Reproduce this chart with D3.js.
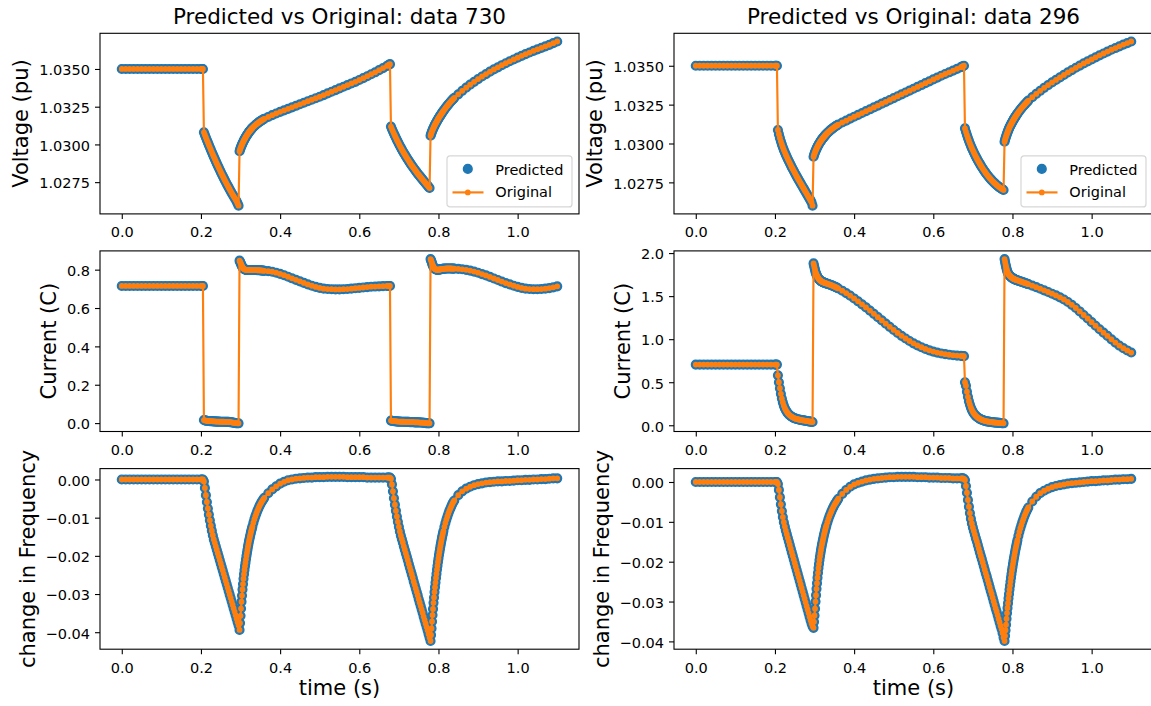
<!DOCTYPE html>
<html>
<head>
<meta charset="utf-8">
<script src="https://cdn.jsdelivr.net/npm/d3@7"></script>
<style>
  html, body { margin: 0; padding: 0; background: #fff; }
  svg { display: block; font-family: "DejaVu Sans", sans-serif; }
</style>
</head>
<body>
<svg id="fig" width="1151" height="706"></svg>
<script>
// Sample times (s): coarse where the signals are calm, finer around the switching events
const time = [].concat(
  d3.range(0, 21).map(i => i * 0.01),             // 0.00 - 0.20      (21)
  d3.range(1, 39).map(i => 0.2 + i * 0.0025),     // 0.2025 - 0.295   (38)
  d3.range(0, 27).map(i => 0.2975 + i * 0.00125), // 0.2975 - 0.33    (27)
  d3.range(1, 13).map(i => 0.33 + i * 0.0025),    // 0.3325 - 0.36    (12)
  d3.range(37, 68).map(i => i * 0.01),            // 0.37 - 0.67      (31)
  d3.range(1, 44).map(i => 0.67 + i * 0.0025),    // 0.6725 - 0.7775  (43)
  d3.range(0, 27).map(i => 0.78 + i * 0.00125),   // 0.78 - 0.8125    (27)
  d3.range(1, 12).map(i => 0.8125 + i * 0.0025),  // 0.815 - 0.84     (11)
  d3.range(85, 111).map(i => i * 0.01)            // 0.85 - 1.10      (26)
);

// ---- data 730 ----
const voltage730 = [
  1.0350,1.0350,1.0350,1.0350,1.0350,1.0350,1.0350,1.0350,1.0350,1.0350,
  1.0350,1.0350,1.0350,1.0350,1.0350,1.0350,1.0350,1.0350,1.0350,1.0350,
  1.0350,
  1.0350,1.0350,
  1.03080,1.03063,1.03046,1.03029,1.03013,1.02997,1.02981,1.02965,1.02949,1.02934,
  1.02919,1.02904,1.02889,1.02874,1.02860,1.02846,1.02832,1.02818,1.02804,1.02791,
  1.02778,1.02765,1.02752,1.02739,1.02727,1.02715,1.02703,1.02691,1.02679,1.02668,
  1.02657,1.02646,1.02635,1.02623,1.02609,1.02594,
  1.02955,1.02966,1.02975,1.02984,1.02992,1.03000,1.03007,1.03014,1.03021,1.03028,
  1.03034,1.03040,1.03046,1.03052,1.03057,1.03062,1.03067,1.03072,1.03077,1.03082,
  1.03086,1.03090,1.03094,1.03098,1.03102,1.03106,1.03109,
  1.03116,1.03122,1.03128,1.03134,1.03139,1.03144,1.03149,1.03154,1.03158,1.03162,
  1.03166,1.03170,
  1.03182,1.03194,1.03205,1.03216,1.03226,1.03236,1.03246,1.03256,1.03266,1.03276,
  1.03286,1.03296,1.03306,1.03316,1.03327,1.03338,1.03349,1.03360,1.03371,1.03382,
  1.03393,1.03404,1.03415,1.03427,1.03439,1.03452,1.03465,1.03478,1.03492,1.03506,
  1.03520,
  1.03524,1.03528,1.03532,
  1.03118,1.03102,1.03087,1.03072,1.03058,1.03044,1.03030,1.03017,1.03004,1.02991,
  1.02979,1.02967,1.02955,1.02944,1.02933,1.02922,1.02911,1.02901,1.02891,1.02881,
  1.02871,1.02861,1.02852,1.02843,1.02834,1.02825,1.02816,1.02807,1.02799,1.02791,
  1.02783,1.02775,1.02767,1.02759,1.02751,1.02743,1.02735,1.02727,1.02719,1.02711,
  1.03058,1.03068,1.03078,1.03087,1.03095,1.03103,1.03110,1.03117,1.03124,1.03131,
  1.03137,1.03143,1.03149,1.03155,1.03161,1.03167,1.03172,1.03178,1.03183,1.03188,
  1.03193,1.03198,1.03203,1.03208,1.03213,1.03218,1.03222,
  1.03231,1.03240,1.03249,1.03257,1.03265,1.03273,1.03281,1.03288,1.03295,1.03302,
  1.03309,
  1.03332,1.03355,1.03376,1.03396,1.03415,1.03433,1.03450,1.03466,1.03482,1.03497,
  1.03511,1.03525,1.03538,1.03551,1.03563,1.03575,1.03587,1.03598,1.03609,1.03620,
  1.03630,1.03640,1.03650,1.03660,1.03671,1.03682
];

const current730 = [
  0.715,0.715,0.715,0.715,0.715,0.715,0.715,0.715,0.715,0.715,
  0.715,0.715,0.715,0.715,0.715,0.715,0.715,0.715,0.715,0.715,
  0.715,
  0.715,0.715,
  0.016,0.014,0.013,0.012,0.011,0.011,0.010,0.010,0.010,0.009,
  0.009,0.009,0.008,0.008,0.008,0.008,0.007,0.007,0.007,0.007,
  0.007,0.006,0.006,0.006,0.006,0.006,0.005,0.005,0.004,0.003,
  0.002,0.001,0.000,0.000,-0.001,-0.001,
  0.847,0.842,0.836,0.830,0.823,0.818,0.813,0.809,0.806,0.804,
  0.802,0.801,0.800,0.799,0.799,0.798,0.798,0.798,0.798,0.798,
  0.798,0.798,0.798,0.798,0.798,0.798,0.798,
  0.798,0.798,0.798,0.798,0.797,0.797,0.797,0.796,0.796,0.795,
  0.795,0.794,
  0.792,0.789,0.784,0.778,0.771,0.763,0.755,0.747,0.739,0.731,
  0.723,0.716,0.710,0.705,0.701,0.699,0.698,0.697,0.697,0.698,
  0.699,0.701,0.703,0.705,0.707,0.709,0.711,0.712,0.713,0.714,
  0.715,
  0.715,0.715,0.715,
  0.013,0.012,0.011,0.010,0.010,0.009,0.009,0.008,0.008,0.008,
  0.007,0.007,0.007,0.007,0.006,0.006,0.006,0.006,0.006,0.005,
  0.005,0.005,0.005,0.005,0.004,0.004,0.004,0.004,0.004,0.003,
  0.003,0.003,0.002,0.002,0.001,0.000,0.000,-0.001,-0.001,-0.001,
  0.855,0.849,0.842,0.834,0.826,0.820,0.814,0.810,0.806,0.804,
  0.802,0.801,0.800,0.800,0.800,0.800,0.800,0.800,0.801,0.801,
  0.802,0.802,0.803,0.803,0.804,0.804,0.804,
  0.805,0.805,0.806,0.806,0.806,0.806,0.806,0.806,0.805,0.805,
  0.805,
  0.804,0.802,0.799,0.795,0.790,0.784,0.777,0.770,0.762,0.754,
  0.746,0.738,0.730,0.723,0.716,0.710,0.705,0.701,0.699,0.698,
  0.698,0.699,0.701,0.704,0.708,0.713
];

const freq730 = [
  0,0,0,0,0,0,0,0,0,0,
  0,0,0,0,0,0,0,0,0,0,
  0,
  0,0,
  -0.0005,-0.0022,-0.0041,-0.0059,-0.0076,-0.0092,-0.0107,-0.0121,-0.0134,-0.0146,
  -0.0157,-0.0166,-0.0175,-0.0184,-0.0193,-0.0202,-0.0211,-0.0220,-0.0229,-0.0238,
  -0.0247,-0.0256,-0.0265,-0.0274,-0.0283,-0.0292,-0.0301,-0.0310,-0.0319,-0.0328,
  -0.0337,-0.0346,-0.0355,-0.0364,-0.0373,-0.0382,
  -0.0394,-0.0376,-0.0357,-0.0338,-0.0320,-0.0304,-0.0288,-0.0274,-0.0260,-0.0248,
  -0.0237,-0.0227,-0.0218,-0.0209,-0.0200,-0.0192,-0.0184,-0.0176,-0.0169,-0.0162,
  -0.0156,-0.0150,-0.0144,-0.0138,-0.0133,-0.0128,-0.0123,
  -0.0113,-0.0104,-0.0096,-0.0089,-0.0082,-0.0076,-0.0070,-0.0065,-0.0060,-0.0056,
  -0.0052,-0.0048,
  -0.0036,-0.0026,-0.0018,-0.0011,-0.0006,-0.0002,0.0000,0.0002,0.0003,0.0004,
  0.0005,0.0005,0.0006,0.0006,0.0006,0.0007,0.0007,0.0007,0.0007,0.0007,
  0.0006,0.0006,0.0006,0.0006,0.0006,0.0005,0.0005,0.0005,0.0005,0.0005,
  0.0005,
  0.0005,0.0005,0.0005,
  0.0002,-0.0013,-0.0031,-0.0049,-0.0066,-0.0082,-0.0097,-0.0111,-0.0124,-0.0136,
  -0.0147,-0.0156,-0.0165,-0.0175,-0.0184,-0.0193,-0.0202,-0.0211,-0.0221,-0.0230,
  -0.0239,-0.0248,-0.0257,-0.0267,-0.0276,-0.0285,-0.0294,-0.0303,-0.0313,-0.0322,
  -0.0331,-0.0340,-0.0349,-0.0359,-0.0368,-0.0377,-0.0386,-0.0395,-0.0405,-0.0414,
  -0.0423,-0.0407,-0.0390,-0.0372,-0.0355,-0.0339,-0.0323,-0.0309,-0.0295,-0.0282,
  -0.0270,-0.0258,-0.0247,-0.0236,-0.0226,-0.0216,-0.0207,-0.0198,-0.0190,-0.0182,
  -0.0174,-0.0167,-0.0160,-0.0153,-0.0147,-0.0141,-0.0135,
  -0.0124,-0.0114,-0.0105,-0.0097,-0.0089,-0.0082,-0.0076,-0.0070,-0.0064,-0.0059,
  -0.0055,
  -0.0041,-0.0031,-0.0024,-0.0019,-0.0015,-0.0012,-0.0010,-0.0008,-0.0007,-0.0006,
  -0.0005,-0.0005,-0.0004,-0.0004,-0.0003,-0.0002,-0.0002,-0.0001,-0.0001,0.0000,
  0.0000,0.0001,0.0001,0.0002,0.0003,0.0003
];

// ---- data 296 ----
const voltage296 = [
  1.0350,1.0350,1.0350,1.0350,1.0350,1.0350,1.0350,1.0350,1.0350,1.0350,
  1.0350,1.0350,1.0350,1.0350,1.0350,1.0350,1.0350,1.0350,1.0350,1.0350,
  1.0350,
  1.0350,1.0350,
  1.03087,1.03060,1.03036,1.03014,1.02994,1.02976,1.02959,1.02943,1.02928,1.02914,
  1.02900,1.02887,1.02874,1.02861,1.02848,1.02836,1.02824,1.02812,1.02800,1.02788,
  1.02777,1.02766,1.02755,1.02744,1.02733,1.02722,1.02711,1.02700,1.02689,1.02678,
  1.02667,1.02656,1.02645,1.02634,1.02622,1.02600,
  1.02915,1.02926,1.02935,1.02944,1.02952,1.02960,1.02967,1.02974,1.02980,1.02986,
  1.02992,1.02998,1.03003,1.03008,1.03013,1.03018,1.03022,1.03027,1.03031,1.03035,
  1.03039,1.03043,1.03047,1.03051,1.03054,1.03058,1.03061,
  1.03068,1.03074,1.03080,1.03086,1.03091,1.03096,1.03101,1.03106,1.03110,1.03114,
  1.03118,1.03122,
  1.03135,1.03147,1.03160,1.03172,1.03184,1.03196,1.03208,1.03220,1.03232,1.03244,
  1.03256,1.03268,1.03280,1.03292,1.03304,1.03316,1.03328,1.03340,1.03352,1.03364,
  1.03376,1.03388,1.03400,1.03412,1.03424,1.03436,1.03447,1.03458,1.03469,1.03480,
  1.03491,
  1.03494,1.03497,1.03500,
  1.03097,1.03075,1.03055,1.03036,1.03018,1.03001,1.02985,1.02970,1.02956,1.02942,
  1.02929,1.02916,1.02904,1.02892,1.02881,1.02870,1.02859,1.02849,1.02839,1.02829,
  1.02820,1.02811,1.02802,1.02794,1.02786,1.02778,1.02771,1.02764,1.02757,1.02751,
  1.02745,1.02739,1.02733,1.02728,1.02723,1.02718,1.02713,1.02709,1.02705,1.02701,
  1.03012,1.03024,1.03035,1.03045,1.03055,1.03064,1.03073,1.03081,1.03089,1.03097,
  1.03104,1.03111,1.03117,1.03123,1.03129,1.03135,1.03141,1.03147,1.03152,1.03158,
  1.03163,1.03168,1.03173,1.03178,1.03183,1.03188,1.03192,
  1.03201,1.03210,1.03218,1.03226,1.03234,1.03241,1.03248,1.03255,1.03262,1.03269,
  1.03276,
  1.03298,1.03319,1.03339,1.03358,1.03376,1.03393,1.03409,1.03425,1.03441,1.03457,
  1.03472,1.03487,1.03501,1.03515,1.03528,1.03541,1.03554,1.03567,1.03579,1.03591,
  1.03603,1.03614,1.03625,1.03636,1.03646,1.03656
];

const current296 = [
  0.705,0.705,0.705,0.705,0.705,0.705,0.705,0.705,0.705,0.705,
  0.705,0.705,0.705,0.705,0.705,0.705,0.705,0.705,0.705,0.705,
  0.705,
  0.705,0.705,
  0.580,0.500,0.430,0.365,0.310,0.265,0.228,0.198,0.175,0.156,
  0.140,0.127,0.116,0.107,0.099,0.092,0.086,0.081,0.077,0.073,
  0.070,0.067,0.064,0.062,0.060,0.058,0.056,0.054,0.052,0.050,
  0.048,0.046,0.044,0.042,0.040,0.038,
  1.880,1.855,1.830,1.805,1.780,1.764,1.750,1.737,1.725,1.714,
  1.705,1.697,1.690,1.685,1.680,1.676,1.672,1.668,1.665,1.662,
  1.660,1.657,1.655,1.653,1.651,1.649,1.647,
  1.643,1.639,1.635,1.631,1.627,1.622,1.617,1.612,1.607,1.601,
  1.595,1.589,
  1.563,1.535,1.505,1.473,1.440,1.405,1.369,1.332,1.294,1.256,
  1.218,1.180,1.143,1.107,1.072,1.039,1.008,0.979,0.952,0.928,
  0.906,0.887,0.870,0.856,0.844,0.834,0.826,0.819,0.813,0.809,
  0.806,
  0.805,0.804,0.803,
  0.500,0.460,0.390,0.330,0.280,0.240,0.205,0.178,0.155,0.137,
  0.122,0.110,0.099,0.090,0.082,0.075,0.069,0.064,0.059,0.055,
  0.052,0.049,0.046,0.044,0.042,0.040,0.038,0.036,0.035,0.033,
  0.032,0.031,0.030,0.029,0.028,0.027,0.026,0.025,0.024,0.023,
  1.930,1.900,1.870,1.845,1.820,1.800,1.780,1.767,1.755,1.747,
  1.740,1.734,1.728,1.723,1.718,1.714,1.710,1.706,1.703,1.700,
  1.697,1.694,1.692,1.689,1.687,1.685,1.683,
  1.679,1.675,1.671,1.667,1.663,1.659,1.655,1.651,1.647,1.643,
  1.639,
  1.622,1.604,1.586,1.567,1.548,1.528,1.508,1.486,1.461,1.432,
  1.399,1.362,1.322,1.281,1.240,1.198,1.156,1.115,1.076,1.038,
  0.998,0.960,0.926,0.896,0.869,0.845
];

const freq296 = [
  0,0,0,0,0,0,0,0,0,0,
  0,0,0,0,0,0,0,0,0,0,
  0,
  0,0,
  -0.0005,-0.0020,-0.0038,-0.0056,-0.0073,-0.0088,-0.0101,-0.0112,-0.0122,-0.0131,
  -0.0140,-0.0149,-0.0158,-0.0167,-0.0176,-0.0185,-0.0194,-0.0203,-0.0212,-0.0221,
  -0.0230,-0.0239,-0.0248,-0.0257,-0.0266,-0.0275,-0.0284,-0.0293,-0.0302,-0.0311,
  -0.0320,-0.0329,-0.0338,-0.0347,-0.0355,-0.0362,
  -0.0366,-0.0351,-0.0335,-0.0318,-0.0300,-0.0284,-0.0268,-0.0254,-0.0240,-0.0228,
  -0.0216,-0.0206,-0.0196,-0.0187,-0.0179,-0.0171,-0.0164,-0.0157,-0.0151,-0.0145,
  -0.0139,-0.0133,-0.0128,-0.0123,-0.0118,-0.0113,-0.0109,
  -0.0101,-0.0093,-0.0086,-0.0080,-0.0074,-0.0068,-0.0063,-0.0058,-0.0054,-0.0050,
  -0.0046,-0.0042,
  -0.0030,-0.0020,-0.0012,-0.0006,-0.0002,0.0001,0.0004,0.0006,0.0008,0.0009,
  0.0010,0.0011,0.0012,0.0012,0.0013,0.0013,0.0013,0.0013,0.0013,0.0012,
  0.0012,0.0012,0.0011,0.0011,0.0011,0.0010,0.0010,0.0010,0.0009,0.0009,
  0.0009,
  0.0009,0.0009,0.0008,
  0.0005,-0.0010,-0.0027,-0.0045,-0.0062,-0.0078,-0.0092,-0.0104,-0.0114,-0.0123,
  -0.0132,-0.0141,-0.0149,-0.0158,-0.0167,-0.0176,-0.0185,-0.0193,-0.0202,-0.0211,
  -0.0220,-0.0229,-0.0237,-0.0246,-0.0255,-0.0264,-0.0273,-0.0281,-0.0290,-0.0299,
  -0.0308,-0.0317,-0.0325,-0.0334,-0.0343,-0.0352,-0.0361,-0.0369,-0.0379,-0.0390,
  -0.0399,-0.0386,-0.0372,-0.0358,-0.0343,-0.0329,-0.0316,-0.0304,-0.0292,-0.0281,
  -0.0270,-0.0260,-0.0250,-0.0240,-0.0231,-0.0222,-0.0214,-0.0206,-0.0198,-0.0191,
  -0.0184,-0.0177,-0.0170,-0.0164,-0.0158,-0.0152,-0.0146,
  -0.0135,-0.0125,-0.0116,-0.0108,-0.0100,-0.0093,-0.0086,-0.0080,-0.0074,-0.0069,
  -0.0064,
  -0.0049,-0.0037,-0.0028,-0.0022,-0.0017,-0.0013,-0.0010,-0.0008,-0.0006,-0.0004,
  -0.0003,-0.0002,-0.0001,0.0000,0.0001,0.0002,0.0002,0.0003,0.0004,0.0004,
  0.0005,0.0006,0.0006,0.0007,0.0007,0.0008
];

// ---- tick values and their labels ----
const timeTicks = [0, 0.2, 0.4, 0.6, 0.8, 1.0];
const timeTickLabels = ["0.0", "0.2", "0.4", "0.6", "0.8", "1.0"];
const voltageTicks = [1.0275, 1.0300, 1.0325, 1.0350];
const voltageTickLabels = ["1.0275", "1.0300", "1.0325", "1.0350"];
const current730Ticks = [0, 0.2, 0.4, 0.6, 0.8];
const current730TickLabels = ["0.0", "0.2", "0.4", "0.6", "0.8"];
const current296Ticks = [0, 0.5, 1.0, 1.5, 2.0];
const current296TickLabels = ["0.0", "0.5", "1.0", "1.5", "2.0"];
const freqTicks = [0, -0.01, -0.02, -0.03, -0.04];
const freqTickLabels = ["0.00", "\u22120.01", "\u22120.02", "\u22120.03", "\u22120.04"];

const titles = ["Predicted vs Original: data 730", "Predicted vs Original: data 296"];
const yLabels = ["Voltage (pu)", "Current (C)", "change in Frequency"];
const xLabel = "time (s)";
const seriesNames = ["Predicted", "Original"];

// ---- layout ----
const svg = d3.select("#fig");
const colX = [100, 674];
const rowY = [33.3, 250.9, 468.6];
const axW = 479, axH = 180.6;
const FS = { tick: 14.5, label: 21, title: 21.5, legend: 14.5 };
const BLUE = "#1f77b4", ORANGE = "#ff7f0e";
const tickLen = 5, tickPad = 5;

svg.append("rect").attr("width", 1151).attr("height", 706).attr("fill", "#fff");

const panels = [
  { col: 0, row: 0, values: voltage730, ticks: voltageTicks, tickLabels: voltageTickLabels },
  { col: 0, row: 1, values: current730, ticks: current730Ticks, tickLabels: current730TickLabels },
  { col: 0, row: 2, values: freq730, ticks: freqTicks, tickLabels: freqTickLabels },
  { col: 1, row: 0, values: voltage296, ticks: voltageTicks, tickLabels: voltageTickLabels },
  { col: 1, row: 1, values: current296, ticks: current296Ticks, tickLabels: current296TickLabels },
  { col: 1, row: 2, values: freq296, ticks: freqTicks, tickLabels: freqTickLabels }
];

panels.forEach((p, k) => {
  const g = svg.append("g").attr("transform", `translate(${colX[p.col]},${rowY[p.row]})`);

  // axis limits with 5% margins around the data
  const tExt = d3.extent(time), tPad = (tExt[1] - tExt[0]) * 0.05;
  const x = d3.scaleLinear().domain([tExt[0] - tPad, tExt[1] + tPad]).range([0, axW]);
  const vExt = d3.extent(p.values), vPad = (vExt[1] - vExt[0]) * 0.05;
  const y = d3.scaleLinear().domain([vExt[0] - vPad, vExt[1] + vPad]).range([axH, 0]);

  const pts = time.map((t, i) => [t, p.values[i]]);

  const clipId = "clip" + k;
  g.append("clipPath").attr("id", clipId)
    .append("rect").attr("width", axW).attr("height", axH);
  const plot = g.append("g").attr("clip-path", `url(#${clipId})`);

  // Predicted: round markers
  plot.append("g").selectAll("circle").data(pts).join("circle")
    .attr("cx", d => x(d[0])).attr("cy", d => y(d[1]))
    .attr("r", 4.35).attr("fill", BLUE)
    .attr("stroke", BLUE).attr("stroke-width", 1.45);

  // Original: line with point markers
  plot.append("path").datum(pts)
    .attr("d", d3.line().x(d => x(d[0])).y(d => y(d[1])))
    .attr("fill", "none").attr("stroke", ORANGE)
    .attr("stroke-width", 2.17).attr("stroke-linejoin", "round").attr("stroke-linecap", "square");
  plot.append("g").selectAll("circle").data(pts).join("circle")
    .attr("cx", d => x(d[0])).attr("cy", d => y(d[1]))
    .attr("r", 2.17).attr("fill", ORANGE)
    .attr("stroke", ORANGE).attr("stroke-width", 1.45);

  // x axis
  const gx = g.append("g").attr("transform", `translate(0,${axH})`)
    .call(d3.axisBottom(x).tickValues(timeTicks)
      .tickFormat((d, i) => timeTickLabels[i]).tickSize(tickLen).tickPadding(tickPad));
  gx.attr("font-size", null).attr("font-family", null);
  gx.select(".domain").remove();
  gx.selectAll(".tick line").attr("stroke", "#000").attr("stroke-width", 1.1);
  gx.selectAll(".tick text").attr("font-size", FS.tick).attr("fill", "#000")
    .attr("y", tickLen + tickPad).attr("dy", "0.93em");

  // y axis
  const gy = g.append("g")
    .call(d3.axisLeft(y).tickValues(p.ticks)
      .tickFormat((d, i) => p.tickLabels[i]).tickSize(tickLen).tickPadding(tickPad));
  gy.attr("font-size", null).attr("font-family", null);
  gy.select(".domain").remove();
  gy.selectAll(".tick line").attr("stroke", "#000").attr("stroke-width", 1.1);
  gy.selectAll(".tick text").attr("font-size", FS.tick).attr("fill", "#000").attr("dy", "0.40em");

  // frame
  g.append("rect").attr("width", axW).attr("height", axH)
    .attr("fill", "none").attr("stroke", "#000").attr("stroke-width", 1.1);

  // y label, placed just left of the widest tick label
  let minX = 0;
  gy.selectAll(".tick text").each(function () {
    const b = this.getBBox();
    const tx = this.parentNode.transform.baseVal.consolidate();
    const ox = tx ? tx.matrix.e : 0;
    minX = Math.min(minX, ox + b.x);
  });
  const lx = minX - 5.8 - 0.236 * FS.label;
  g.append("text")
    .attr("transform", `translate(${lx},${axH / 2}) rotate(-90)`)
    .attr("text-anchor", "middle").attr("font-size", FS.label).attr("fill", "#000")
    .text(yLabels[p.row]);

  if (p.row === 0) {
    g.append("text").attr("x", axW / 2).attr("y", -9)
      .attr("text-anchor", "middle").attr("font-size", FS.title).attr("fill", "#000")
      .text(titles[p.col]);

    // legend, lower right
    const lw = 125, lh = 51;
    const lg = g.append("g").attr("transform", `translate(${axW - 7 - lw},${axH - 7 - lh})`);
    lg.append("rect").attr("width", lw).attr("height", lh).attr("rx", 3)
      .attr("fill", "#fff").attr("fill-opacity", 0.8)
      .attr("stroke", "#cccccc").attr("stroke-opacity", 0.8).attr("stroke-width", 1.2);
    lg.append("circle").attr("cx", 20.8).attr("cy", 13).attr("r", 4.35)
      .attr("fill", BLUE).attr("stroke", BLUE).attr("stroke-width", 1.45);
    lg.append("line").attr("x1", 5.5).attr("x2", 36.5).attr("y1", 36.5).attr("y2", 36.5)
      .attr("stroke", ORANGE).attr("stroke-width", 2.17);
    lg.append("circle").attr("cx", 20.8).attr("cy", 36.5).attr("r", 2.17)
      .attr("fill", ORANGE).attr("stroke", ORANGE).attr("stroke-width", 1.45);
    lg.append("text").attr("x", 48.3).attr("y", 19.3).attr("font-size", FS.legend)
      .attr("fill", "#000").text(seriesNames[0]);
    lg.append("text").attr("x", 48.3).attr("y", 41.5).attr("font-size", FS.legend)
      .attr("fill", "#000").text(seriesNames[1]);
  }

  if (p.row === 2) {
    g.append("text").attr("x", axW / 2).attr("y", axH + 45.5)
      .attr("text-anchor", "middle").attr("font-size", FS.label).attr("fill", "#000")
      .text(xLabel);
  }
});
</script>
</body>
</html>
